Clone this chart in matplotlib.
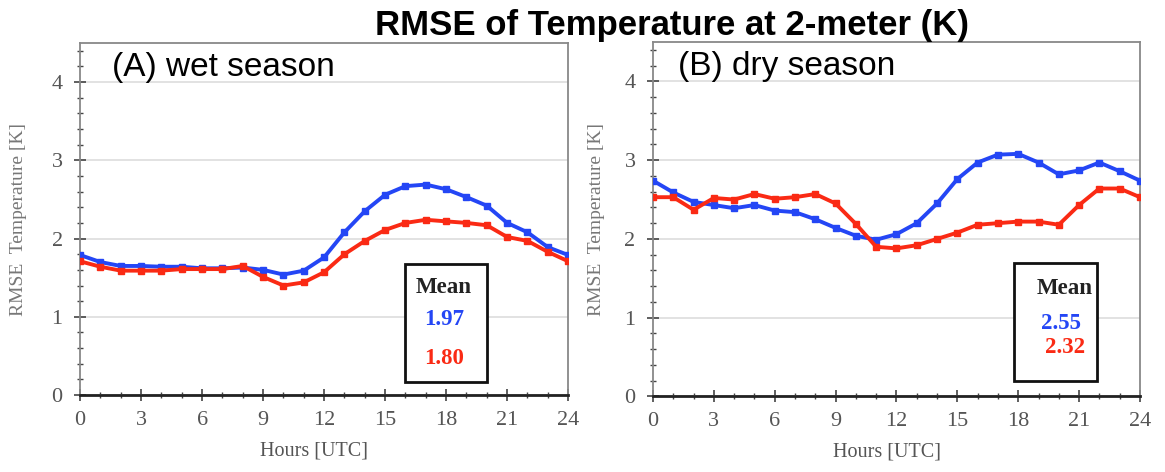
import numpy as np
import matplotlib
matplotlib.use("Agg")
import matplotlib.pyplot as plt
from matplotlib.patches import Rectangle
from matplotlib.ticker import MultipleLocator

hours = list(range(25))

wet_blue = [1.79, 1.70, 1.65, 1.65, 1.64, 1.64, 1.62, 1.62, 1.63, 1.60, 1.54, 1.59, 1.76,
            2.08, 2.35, 2.56, 2.67, 2.69, 2.63, 2.53, 2.42, 2.20, 2.08, 1.89, 1.79]
wet_red = [1.71, 1.64, 1.59, 1.59, 1.59, 1.61, 1.61, 1.61, 1.65, 1.51, 1.40, 1.44, 1.57,
           1.80, 1.97, 2.11, 2.20, 2.24, 2.22, 2.20, 2.17, 2.02, 1.97, 1.83, 1.71]
dry_blue = [2.74, 2.59, 2.47, 2.43, 2.39, 2.43, 2.36, 2.34, 2.25, 2.14, 2.04, 1.99, 2.06,
            2.20, 2.45, 2.76, 2.97, 3.07, 3.08, 2.97, 2.82, 2.87, 2.97, 2.86, 2.74]
dry_red = [2.53, 2.53, 2.37, 2.52, 2.50, 2.57, 2.51, 2.53, 2.57, 2.45, 2.19, 1.90, 1.88,
           1.92, 2.00, 2.08, 2.18, 2.20, 2.22, 2.22, 2.18, 2.43, 2.64, 2.64, 2.53]

panel_labels = ["(A) wet season", "(B) dry season"]
mean_blue = ["1.97", "2.55"]
mean_red = ["1.80", "2.32"]

BLUE = "#2446f5"
RED = "#fa2a14"
SERIF = "Liberation Serif"

fig = plt.figure(figsize=(11.65, 4.72), dpi=100)
ax_a = fig.add_axes([0.0687, 0.163, 0.419, 0.746])
ax_b = fig.add_axes([0.5605, 0.160, 0.418, 0.751])

fig.text(0.577, 0.946, "RMSE of Temperature at 2-meter (K)", ha="center", va="center",
         fontsize=25, fontweight="bold", family="Liberation Sans")

panels = [(ax_a, wet_blue, wet_red), (ax_b, dry_blue, dry_red)]
# box: (x0, y0, w, h), text x, text y's
boxes = [((16.0, 0.17, 4.0, 1.51), 17.9, (1.38, 0.97, 0.47)),
         ((17.8, 0.20, 4.1, 1.50), 20.3, (1.37, 0.93, 0.62))]

for i, (ax, blue, red) in enumerate(panels):
    ax.plot(hours, blue, color=BLUE, lw=2.8, marker="s", ms=5, zorder=3)
    ax.plot(hours, red, color=RED, lw=2.8, marker="s", ms=5, zorder=3)
    ax.set_xlim(0, 24)
    ax.set_ylim(0, 4.5)
    ax.xaxis.set_major_locator(MultipleLocator(3))
    ax.xaxis.set_minor_locator(MultipleLocator(1))
    ax.yaxis.set_major_locator(MultipleLocator(1))
    ax.yaxis.set_minor_locator(MultipleLocator(0.2))
    ax.grid(True, axis="y", which="major", color="#dddddd", lw=1.2)
    ax.tick_params(which="major", direction="inout", length=9, width=1.2,
                   labelsize=16, labelcolor="#555555", color="#444444")
    ax.tick_params(which="minor", direction="inout", length=5, width=1.0, color="#444444")
    ax.tick_params(axis="y", pad=8)
    ax.tick_params(axis="x", pad=7)
    for lab in ax.get_xticklabels() + ax.get_yticklabels():
        lab.set_family(SERIF)
    for side in ["top", "right", "left"]:
        ax.spines[side].set_color("#888888")
        ax.spines[side].set_linewidth(1.3)
    ax.spines["bottom"].set_color("#222222")
    ax.spines["bottom"].set_linewidth(2.0)
    ax.set_xlabel("Hours [UTC]", family=SERIF, fontsize=14.5, color="#555555")
    ax.xaxis.set_label_coords(0.48, -0.131)
    ax.set_ylabel("RMSE  Temperature [K]", family=SERIF, fontsize=14, color="#777777")
    ax.yaxis.set_label_coords(-0.108 if i == 0 else -0.099, 0.5)
    ax.text(0.066 if i == 0 else 0.051, 0.975, panel_labels[i], transform=ax.transAxes,
            fontsize=24, family="Liberation Sans", va="top", ha="left")

    (bx, by, bw, bh), tx, (ym, yb, yr) = boxes[i]
    ax.add_patch(Rectangle((bx, by), bw, bh, fill=True, facecolor="white",
                           edgecolor="#111111", lw=2.0, zorder=4))
    ax.text(tx, ym, "Mean", ha="center", va="center", family=SERIF, fontsize=16.5,
            fontweight="bold", color="#222222", zorder=5)
    ax.text(tx - (0.2 if i == 1 else 0), yb, mean_blue[i], ha="center", va="center",
            family=SERIF, fontsize=16.5, fontweight="bold", color=BLUE, zorder=5)
    ax.text(tx, yr, mean_red[i], ha="center", va="center", family=SERIF, fontsize=16.5,
            fontweight="bold", color=RED, zorder=5)

fig.savefig("out.png", dpi=100)
